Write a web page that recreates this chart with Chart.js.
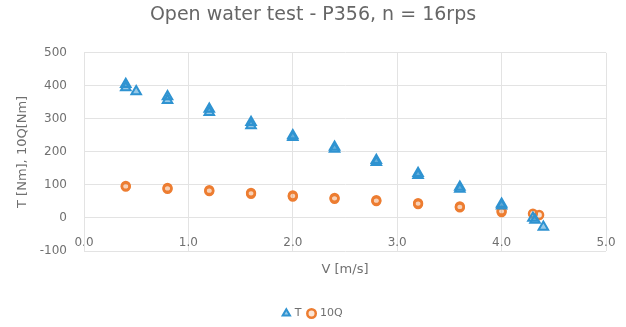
<!DOCTYPE html>
<html>
<head>
<meta charset="utf-8">
<script src="https://cdn.jsdelivr.net/npm/chart.js@4.4.1/dist/chart.umd.min.js"></script>
<style>
html,body{margin:0;padding:0;background:#fff;}
#wrap{width:626px;height:327px;position:relative;}
</style>
</head>
<body>
<div id="wrap"><canvas id="c" width="626" height="327"></canvas></div>
<script>
// Data
const tSpeed = [0.40, 0.40, 0.50, 0.80, 0.80, 1.20, 1.20, 1.60, 1.60, 2.00, 2.00, 2.40, 2.40, 2.80, 2.80, 3.20, 3.20, 3.60, 3.60, 4.00, 4.00, 4.30, 4.32, 4.40];
const tThrust = [405, 395, 383, 368, 356, 330, 320, 290, 280, 250, 244, 215, 209, 175, 169, 135, 129, 94, 88, 42, 37, 0, -6, -27];
const qSpeed = [0.40, 0.40, 0.80, 0.80, 1.20, 1.20, 1.60, 1.60, 2.00, 2.00, 2.40, 2.40, 2.80, 2.80, 3.20, 3.20, 3.60, 3.60, 4.00, 4.00, 4.30, 4.36];
const qTorque10 = [97, 95, 91, 88, 84, 81, 76, 73, 68, 65, 61, 58, 54, 51, 45, 42, 35, 32, 22, 18, 13, 9];
const seriesNames = ['T', '10Q'];
const chartTitle = 'Open water test - P356, n = 16rps';
const xTitle = 'V [m/s]';
const yTitle = 'T [Nm], 10Q[Nm]';

const toPts = (xs, ys) => xs.map((x, i) => ({x: x, y: ys[i]}));
const grey = '#707070';
const gridC = '#e3e3e3';
const FONT = '"DejaVu Sans", sans-serif';

new Chart(document.getElementById('c'), {
  type: 'scatter',
  data: {
    datasets: [
      {
        label: seriesNames[0],
        data: toPts(tSpeed, tThrust),
        pointStyle: 'triangle',
        pointRadius: 5.5,
        borderWidth: 2,
        borderColor: '#2f93d1',
        backgroundColor: 'rgba(47,147,209,0.5)'
      },
      {
        label: seriesNames[1],
        data: toPts(qSpeed, qTorque10),
        pointStyle: 'circle',
        pointRadius: 3.9,
        borderWidth: 2.5,
        borderColor: '#ed7d31',
        backgroundColor: 'rgba(237,125,49,0.2)'
      }
    ]
  },
  options: {
    responsive: false,
    animation: false,
    layout: {padding: {left: 12, right: 12, top: 0, bottom: -2}},
    plugins: {
      title: {
        display: true,
        text: chartTitle,
        color: '#666666',
        font: {family: FONT, size: 19, weight: 'normal'},
        padding: {top: 4, bottom: 26}
      },
      legend: {
        position: 'bottom',
        labels: {
          usePointStyle: true,
          boxWidth: 6,
          boxHeight: 6,
          padding: 7,
          color: grey,
          font: {family: FONT, size: 11}
        }
      },
      tooltip: {enabled: false}
    },
    scales: {
      x: {
        type: 'linear',
        position: {y: 0},
        min: 0, max: 5,
        ticks: {
          stepSize: 1,
          padding: 18,
          color: grey,
          font: {family: FONT, size: 12},
          callback: v => Number(v).toFixed(1)
        },
        grid: {color: gridC, drawTicks: false, lineWidth: 1},
        border: {color: gridC},
        title: {
          display: true, text: xTitle, color: grey,
          font: {family: FONT, size: 13}, padding: {top: -7, bottom: 0}
        },
        afterFit: s => { s.paddingRight = 20; }
      },
      spacer: {
        type: 'linear',
        axis: 'x',
        position: 'bottom',
        display: true,
        ticks: {display: false},
        grid: {display: false, drawTicks: false},
        border: {display: false},
        afterFit: s => { s.height = 50; }
      },
      y: {
        min: -100, max: 500,
        ticks: {
          stepSize: 100,
          padding: 17,
          color: grey,
          font: {family: FONT, size: 12}
        },
        grid: {color: gridC, drawTicks: false},
        border: {color: gridC},
        title: {
          display: true, text: yTitle, color: grey,
          font: {family: FONT, size: 13}, padding: {top: 3, bottom: 0}
        },
        afterFit: s => { s.width = 72; }
      }
    }
  }
});
</script>
</body>
</html>
